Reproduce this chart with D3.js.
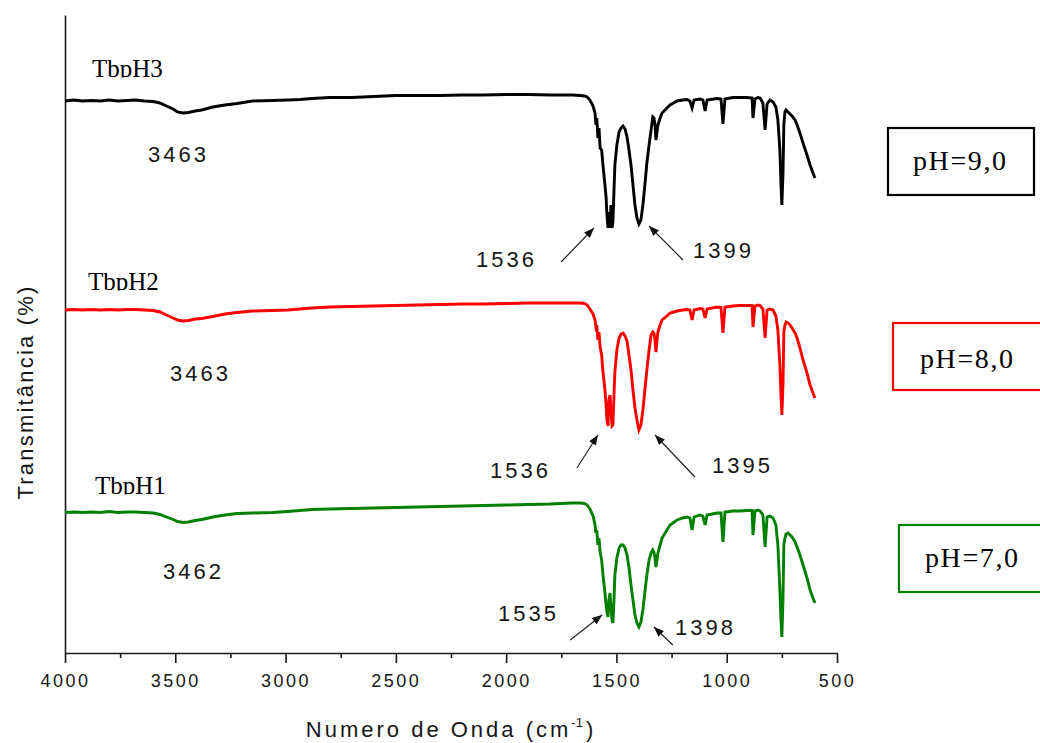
<!DOCTYPE html>
<html>
<head>
<meta charset="utf-8">
<script src="https://cdn.jsdelivr.net/npm/d3@7"></script>
<style>
  html, body { margin: 0; padding: 0; background: #fff; }
  svg { display: block; }
</style>
</head>
<body>
<script>
// FTIR spectra of the Tb complexes prepared at three pH values (stacked, offset).
const wavenumbers = [
  4000, 3960, 3920, 3880, 3840, 3800, 3760, 3720, 3680, 3640,
  3600, 3570, 3540, 3510, 3490, 3465, 3440, 3410, 3380, 3330,
  3275, 3220, 3150, 3060, 2990, 2935, 2880, 2800, 2700, 2600,
  2500, 2400, 2300, 2200, 2100, 2000, 1900, 1800, 1750, 1700,
  1665, 1645, 1633, 1620, 1606, 1597, 1593, 1589, 1584, 1579,
  1574, 1567, 1561, 1552, 1547, 1543, 1538, 1534, 1529, 1525,
  1520, 1516, 1511, 1507, 1498, 1488, 1479, 1470, 1461, 1452,
  1443, 1434, 1425, 1416, 1407, 1398, 1389, 1380, 1371, 1362,
  1352, 1343, 1335, 1330, 1325, 1321, 1316, 1312, 1302, 1293,
  1271, 1257, 1225, 1200, 1180, 1167, 1157, 1148, 1121, 1108,
  1098, 1089, 1044, 1026, 1017, 1008, 972, 940, 908, 885,
  881, 872, 858, 849, 836, 826, 817, 804, 790, 777,
  768, 759, 754, 750, 745, 741, 736, 731, 722, 713,
  704, 690, 681, 668, 654, 636, 622, 609, 600
];

// Transmittance (%) of each sample
const tbpH3 = [
  76, 76.5, 76, 76.25, 76, 76.5, 76, 76.25, 76.5, 76,
  75.75, 75, 73.5, 72, 70.5, 70, 70.25, 71, 71.5, 73,
  74, 74.75, 76, 76.25, 76.5, 76.75, 77.25, 77.75, 77.75, 78.25,
  78.75, 78.75, 78.75, 79, 79, 79.25, 79.25, 79, 79, 79,
  78.75, 78.5, 78, 76.5, 73.5, 70, 64, 67.5, 57.5, 62.5,
  52.5, 51.5, 44, 34, 28, 19, 12.5, 20.5, 12.5, 24,
  12.5, 15.5, 31.5, 44, 54, 60.5, 62.5, 63.5, 62, 58,
  51.5, 44, 34, 24, 17.5, 14.5, 16.5, 24, 34, 45,
  54, 61.5, 68, 67.5, 64, 56.5, 60.5, 64, 67.5, 70,
  72.5, 74, 76, 76.5, 76.75, 76, 72.5, 76.5, 77, 76.5,
  71, 76.5, 77.25, 77, 64.5, 77, 77.75, 77.75, 77.75, 77.5,
  67.5, 77, 77.75, 77.5, 75, 61.5, 74.5, 76.5, 75.5, 73,
  66.5, 51.5, 34, 24, 39, 64, 70.5, 71.5, 70.5, 69.5,
  68.5, 66.5, 64, 60, 55, 49, 44, 40, 37.5
];
const tbpH2 = [
  71.5, 71.75, 71.5, 71.75, 71.5, 71.75, 71.5, 71.75, 71.75, 71.5,
  71.25, 70.5, 69, 67.5, 66.5, 66, 66.25, 67, 67.25, 68.25,
  69.5, 70.25, 71, 71.25, 71.5, 72, 72.5, 73, 73.25, 73.5,
  73.75, 74, 74.25, 74.5, 74.5, 74.75, 75, 75, 75, 75,
  75, 74.75, 74, 72, 69.5, 66.5, 63, 64, 56.5, 60.5,
  53, 49, 40.5, 31.5, 24, 16.5, 13.5, 26.5, 29, 21.5,
  13.5, 14, 29, 40.5, 51.5, 57.5, 59.5, 60, 58.5, 56,
  49, 41.5, 31.5, 22.5, 16.5, 11.5, 14, 21.5, 31.5, 41.5,
  51.5, 59, 60.5, 60, 56.5, 50.5, 56.5, 60.5, 64, 66.5,
  68.5, 70, 71, 71.5, 71.75, 71.5, 66.5, 71.5, 72.25, 72,
  67.5, 72, 73, 72.75, 60, 73, 73.5, 73.75, 73.75, 73.75,
  63, 73.5, 74, 73.75, 72, 57.5, 71.5, 72, 71.5, 68.5,
  61.5, 44, 29, 19, 34, 60.5, 64, 65.5, 65, 64,
  62.5, 60, 57.5, 52.5, 46.5, 40, 34, 30, 27.5
];
const tbpH1 = [
  70.25, 70.5, 70.25, 70.5, 70.25, 70.75, 70.25, 70.5, 70.5, 70.25,
  70, 69.25, 68, 66.75, 65.75, 65.25, 65.5, 66.25, 66.75, 68,
  69, 69.75, 70, 70.25, 70.75, 71.25, 71.75, 72, 72.25, 72.5,
  72.75, 73, 73.25, 73.5, 73.75, 74, 74.25, 74.5, 74.75, 75,
  75, 74.75, 74, 72, 68.5, 64, 60, 61.5, 54, 57.5,
  50.5, 46.5, 39, 30, 24, 20.5, 18, 26.5, 30, 24,
  16.5, 15, 26.5, 39, 47.5, 52.5, 54, 54, 52.5, 49,
  42.5, 34, 26.5, 19, 15, 13, 15.5, 21.5, 30.5, 39,
  46.5, 50, 51.5, 50.5, 47.5, 43, 46.5, 50, 54, 57.5,
  61.5, 64, 66.5, 67.5, 68, 67.5, 61.5, 68, 69, 68.5,
  64, 69, 70, 70, 55.5, 70.5, 71, 71, 71.25, 71.25,
  59, 71, 71.5, 71, 69, 53, 68, 68.5, 67.5, 64,
  54, 31.5, 16.5, 8, 26.5, 54, 57.5, 59.5, 60, 59,
  58, 55.5, 53, 49, 44, 37.5, 31.5, 27.5, 25
];

const seriesNames = ["TbpH3", "TbpH2", "TbpH1"];
const seriesValues = [tbpH3, tbpH2, tbpH1];
const seriesOffsets = [200, 100, 0];
const seriesColors = ["#000000", "#ff0000", "#008000"];
const phLabels = ["pH=9,0", "pH=8,0", "pH=7,0"];

// Where each sample name sits (wavenumber, stacked value)
const nameAnchors = [[3878, 288], [3896, 181.5], [3864, 79.5]];

// Band assignments: label text, label anchor, arrow tail, arrow head
const bandLabels = ["3463", "1536", "1399", "3463", "1536", "1395", "3462", "1535", "1398"];
const bandLabelAt = [
  [3624, 245.5], [2137, 193], [1153, 197.5],
  [3524, 136], [2073, 87.5], [1067, 90],
  [3556, 37], [2037, 16], [1234, 9]
];
const arrowTails = [[1751, 195.5], [1198, 196.5], [1679, 92.5], [1144, 88], [1710, 6.5], [1244, 4]];
const arrowHeads = [[1602, 212.5], [1352, 213.5], [1584, 109], [1325, 109], [1565, 19], [1330, 13]];

const majorTicks = [4000, 3500, 3000, 2500, 2000, 1500, 1000, 500];
const minorTicks = [3750, 3250, 2750, 2250, 1750, 1250, 750];

const W = 1040, H = 743;
const svg = d3.select("body").append("svg").attr("width", W).attr("height", H);

const x = d3.scaleLinear().domain([4000, 500]).range([65, 837]);
const y = d3.scaleLinear().domain([0, 319]).range([653, 15]);

const sans = "'Liberation Sans', Arial, sans-serif";
const serif = "'Liberation Serif', 'Times New Roman', serif";
const axisColor = "#1a1a1a";
const textColor = "#161616";

// Arrowhead marker
svg.append("defs").append("marker")
  .attr("id", "arrowhead")
  .attr("markerUnits", "userSpaceOnUse")
  .attr("viewBox", "0 0 10 8")
  .attr("refX", 10).attr("refY", 4)
  .attr("markerWidth", 11).attr("markerHeight", 8)
  .attr("orient", "auto")
  .append("path").attr("d", "M0,0 L10,4 L0,8 Z").attr("fill", "#111");

// Bottom axis: major ticks with labels, minor ticks without
const gx = svg.append("g").attr("transform", `translate(0,${y(0)})`)
  .call(d3.axisBottom(x).tickValues(majorTicks).tickSize(10).tickSizeOuter(0).tickPadding(11).tickFormat(d3.format("d")));
gx.select(".domain").attr("stroke", axisColor).attr("stroke-width", 1.6);
gx.selectAll(".tick line").attr("stroke", axisColor).attr("stroke-width", 1.6);
gx.selectAll(".tick text")
  .attr("font-family", sans).attr("font-size", 18).attr("fill", textColor)
  .attr("letter-spacing", "2.5px");

const gxm = svg.append("g").attr("transform", `translate(0,${y(0)})`)
  .call(d3.axisBottom(x).tickValues(minorTicks).tickSize(5).tickSizeOuter(0).tickFormat(""));
gxm.select(".domain").remove();
gxm.selectAll(".tick line").attr("stroke", axisColor).attr("stroke-width", 1.6);

// Left axis: plain line, no ticks
const gy = svg.append("g").attr("transform", `translate(${x(4000)},0)`)
  .call(d3.axisLeft(y).tickValues([]).tickSizeOuter(0));
gy.select(".domain").attr("stroke", axisColor).attr("stroke-width", 1.6);

// Axis titles
const xTitle = svg.append("text")
  .attr("x", 451).attr("y", 737)
  .attr("text-anchor", "middle")
  .attr("font-family", sans).attr("font-size", 22).attr("fill", textColor)
  .attr("letter-spacing", "3px");
xTitle.append("tspan").text("Numero de Onda (cm");
xTitle.append("tspan").attr("font-size", 13).attr("dy", -10).attr("letter-spacing", "0px").text("-1");
xTitle.append("tspan").attr("dy", 10).attr("dx", 3).text(")");

svg.append("text")
  .attr("transform", `translate(33,392) rotate(-90)`)
  .attr("text-anchor", "middle")
  .attr("font-family", sans).attr("font-size", 22).attr("fill", textColor)
  .attr("letter-spacing", "2.2px")
  .text("Transmitância (%)");

// Spectra
const line = d3.line().x(d => x(d[0])).y(d => y(d[1]));
seriesValues.forEach((vals, i) => {
  const pts = wavenumbers.map((w, k) => [w, vals[k] + seriesOffsets[i]]);
  svg.append("path")
    .datum(pts)
    .attr("d", line)
    .attr("fill", "none")
    .attr("stroke", seriesColors[i])
    .attr("stroke-width", 2.9)
    .attr("stroke-linejoin", "miter");
});

// Sample names, cut off at the baseline
const defs = svg.select("defs");
seriesNames.forEach((name, i) => {
  const [wx, wy] = nameAnchors[i];
  const bx = x(wx), by = y(wy);
  defs.append("clipPath").attr("id", "nameclip" + i)
    .append("rect").attr("x", 0).attr("y", by - 40).attr("width", W).attr("height", 40.5);
  svg.append("text")
    .attr("x", bx).attr("y", by)
    .attr("clip-path", `url(#nameclip${i})`)
    .attr("font-family", serif).attr("font-size", 25).attr("fill", "#000")
    .text(name);
});

// Band labels
bandLabels.forEach((t, i) => {
  svg.append("text")
    .attr("x", x(bandLabelAt[i][0])).attr("y", y(bandLabelAt[i][1]))
    .attr("font-family", sans).attr("font-size", 22).attr("fill", textColor)
    .attr("letter-spacing", "3px")
    .text(t);
});

// Arrows pointing at the bands
arrowTails.forEach((t, i) => {
  const h = arrowHeads[i];
  svg.append("line")
    .attr("x1", x(t[0])).attr("y1", y(t[1]))
    .attr("x2", x(h[0])).attr("y2", y(h[1]))
    .attr("stroke", "#222").attr("stroke-width", 1.2)
    .attr("marker-end", "url(#arrowhead)");
});

// pH boxes at the right
const phBoxes = [
  { x: 888, y: 128, w: 146, h: 67, tx: 913, ty: 170 },
  { x: 893, y: 323, w: 160, h: 67, tx: 920, ty: 368 },
  { x: 899, y: 525, w: 160, h: 67, tx: 925, ty: 567 }
];
phLabels.forEach((lab, i) => {
  const b = phBoxes[i];
  svg.append("rect")
    .attr("x", b.x).attr("y", b.y).attr("width", b.w).attr("height", b.h)
    .attr("fill", "none").attr("stroke", seriesColors[i]).attr("stroke-width", 2.2);
  svg.append("text")
    .attr("x", b.tx).attr("y", b.ty)
    .attr("font-family", serif).attr("font-size", 28).attr("fill", "#000")
    .attr("letter-spacing", "1.6px")
    .text(lab);
});
</script>
</body>
</html>
